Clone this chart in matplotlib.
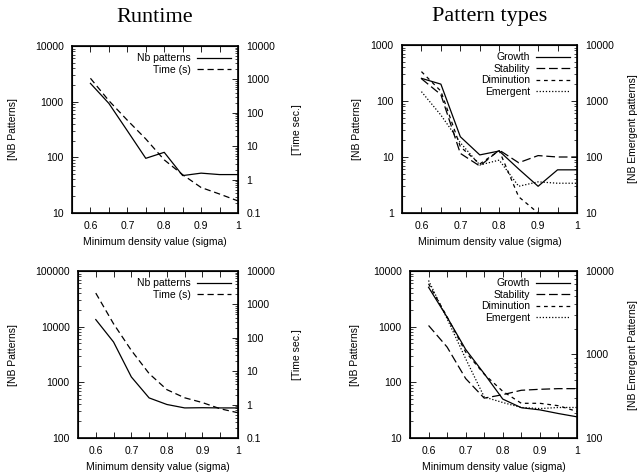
import numpy as np
import matplotlib
matplotlib.use('Agg')
import matplotlib.pyplot as plt
from matplotlib.ticker import LogLocator, NullFormatter, FixedLocator

plt.rcParams['font.family'] = ['Liberation Sans', 'DejaVu Sans']
font_tick = 7.5
font_label = 7.5
font_title = 16

x = [0.6, 0.65, 0.7, 0.75, 0.8, 0.85, 0.9, 0.95, 1.0]

# runtime, first data set
rt1_nb = [2130, 930, 300, 96, 123, 47, 52, 49, 49]
rt1_time = [1080, 230, 60, 16.5, 3.9, 1.4, 0.58, 0.37, 0.23]
# runtime, second data set
rt2_nb = [13400, 5300, 1250, 525, 400, 347, 350, 347, 347]
rt2_time = [2180, 263, 42, 8.5, 2.8, 1.6, 1.15, 0.75, 0.57]

# pattern types, first data set
pt1_growth = [254, 200, 23, 10.9, 12.8, 6.1, 3.0, 5.9, 5.9]
pt1_stab = [250, 130, 11.6, 6.9, 13.3, 7.9, 10.6, 10, 10]
pt1_dimin = [335, 150, 15.3, 7.5, 13, 1.95, 1.0, 0.5, 0.5]
pt1_emerg = [1470, 560, 180, 72, 88, 30, 36, 34, 34]
# pattern types, second data set
pt2_growth = [5100, 1480, 390, 143, 50, 35, 32, 27.5, 24]
pt2_stab = [1050, 430, 117, 52, 60, 72, 75, 77, 77]
pt2_dimin = [5900, 1500, 350, 140, 69, 42, 42, 38, 30]
pt2_emerg = [7700, 2680, 890, 310, 266, 232, 225, 232, 232]

W, H = 639, 474
fig = plt.figure(figsize=(W/100, H/100), dpi=100)

def box(l, t, r, b):
    return [l/W, 1-b/H, (r-l)/W, (b-t)/H]

def style_log(ax, side):
    ax.set_yscale('log')
    ax.yaxis.set_major_locator(LogLocator(base=10, numticks=20))
    ax.yaxis.set_minor_locator(LogLocator(base=10, subs=np.arange(2, 10), numticks=20))
    ax.yaxis.set_minor_formatter(NullFormatter())
    ax.yaxis.set_major_formatter(matplotlib.ticker.FuncFormatter(lambda v, p: '%g' % v))
    ax.tick_params(axis='y', which='major', direction='in', length=4, width=0.6,
                   labelsize=font_tick, left=(side == 'left'), right=(side == 'right'),
                   labelleft=(side == 'left'), labelright=(side == 'right'), pad=6)
    ax.tick_params(axis='y', which='minor', direction='in', length=2, width=0.5,
                   left=(side == 'left'), right=(side == 'right'))

def setup(ax, ylim, ylim2, ylab, ylab2, pad_l, pad_r):
    ax.set_xlim(0.55, 1.0)
    ax.set_ylim(*ylim)
    style_log(ax, 'left')
    ax.xaxis.set_major_locator(FixedLocator([0.6, 0.7, 0.8, 0.9, 1.0]))
    ax.xaxis.set_minor_locator(FixedLocator([0.65, 0.75, 0.85, 0.95]))
    ax.set_xticklabels(['0.6', '0.7', '0.8', '0.9', '1'])
    ax.tick_params(axis='x', which='both', direction='in', length=4, width=0.6,
                   top=True, labelsize=font_tick, pad=6)
    for s in ax.spines.values():
        s.set_linewidth(1.2)
    ax.set_xlabel('Minimum density value (sigma)', fontsize=font_label, labelpad=4)
    ax.set_ylabel(ylab, fontsize=font_label, labelpad=pad_l)
    ax2 = ax.twinx()
    ax2.set_ylim(*ylim2)
    style_log(ax2, 'right')
    ax2.set_ylabel(ylab2, fontsize=font_label, labelpad=pad_r)
    return ax2

lw = 0.9
def legend(ax, handles):
    ax.legend(handles=handles, loc='upper right', frameon=False, markerfirst=False,
              fontsize=font_label, handlelength=3.2, handletextpad=0.6,
              labelspacing=0.15, borderaxespad=0.3)

# top left
ax = fig.add_axes(box(72, 46, 238, 213))
ax2 = setup(ax, (10, 10000), (0.1, 10000), '[NB Patterns]', '[Time sec.]', 12, 12)
h1, = ax.plot(x, rt1_nb, color='black', lw=lw, label='Nb patterns')
h2, = ax2.plot(x, rt1_time, color='black', lw=lw, dashes=(5, 3), label='Time (s)')
legend(ax2, [h1, h2])
ax.set_title('Runtime', fontsize=font_title, family=['Liberation Serif'], pad=17)

# top right
ax = fig.add_axes(box(402, 45, 577, 213))
ax2 = setup(ax, (1, 1000), (10, 10000), '[NB Patterns]', '[NB Emergent patterns]', 6, 10)
g1, = ax.plot(x, pt1_growth, color='black', lw=lw, label='Growth')
g2, = ax.plot(x, pt1_stab, color='black', lw=lw, dashes=(7, 3), label='Stability')
g3, = ax.plot(x, pt1_dimin, color='black', lw=lw, dashes=(3, 3), label='Diminution')
g4, = ax2.plot(x, pt1_emerg, color='black', lw=lw, dashes=(1, 1.5), label='Emergent')
legend(ax2, [g1, g2, g3, g4])
ax.set_title('Pattern types', fontsize=font_title, family=['Liberation Serif'], pad=17)

# bottom left
ax = fig.add_axes(box(78, 271, 238, 438))
ax2 = setup(ax, (100, 100000), (0.1, 10000), '[NB Patterns]', '[Time sec.]', 12, 12)
h1, = ax.plot(x, rt2_nb, color='black', lw=lw, label='Nb patterns')
h2, = ax2.plot(x, rt2_time, color='black', lw=lw, dashes=(5, 3), label='Time (s)')
legend(ax2, [h1, h2])

# bottom right
ax = fig.add_axes(box(410, 271, 577, 438))
ax2 = setup(ax, (10, 10000), (100, 10000), '[NB Patterns]', '[NB Emergent Patterns]', 9, 10)
g1, = ax.plot(x, pt2_growth, color='black', lw=lw, label='Growth')
g2, = ax.plot(x, pt2_stab, color='black', lw=lw, dashes=(7, 3), label='Stability')
g3, = ax.plot(x, pt2_dimin, color='black', lw=lw, dashes=(3, 3), label='Diminution')
g4, = ax2.plot(x, pt2_emerg, color='black', lw=lw, dashes=(1, 1.5), label='Emergent')
legend(ax2, [g1, g2, g3, g4])

plt.savefig('out.png', dpi=100)
